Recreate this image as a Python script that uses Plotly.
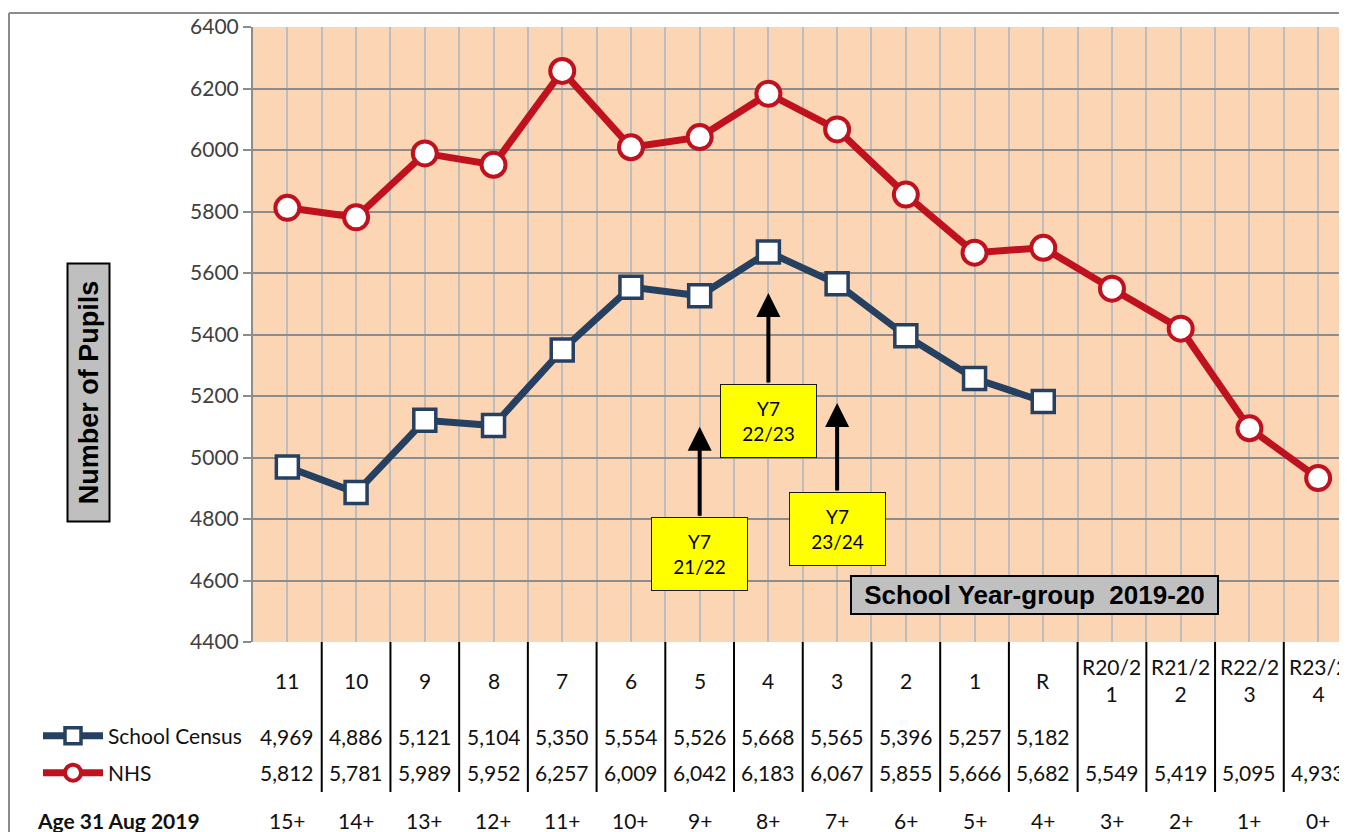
import plotly.graph_objects as go

# ---------------- data ----------------
year_groups = ["11", "10", "9", "8", "7", "6", "5", "4", "3", "2", "1", "R",
               "R20/21", "R21/22", "R22/23", "R23/24"]
year_labels = ["11", "10", "9", "8", "7", "6", "5", "4", "3", "2", "1", "R",
               "R20/2<br>1", "R21/2<br>2", "R22/2<br>3", "R23/2<br>4"]
ages = ["15+", "14+", "13+", "12+", "11+", "10+", "9+", "8+", "7+", "6+", "5+", "4+",
        "3+", "2+", "1+", "0+"]
census = [4969, 4886, 5121, 5104, 5350, 5554, 5526, 5668, 5565, 5396, 5257, 5182]
nhs = [5812, 5781, 5989, 5952, 6257, 6009, 6042, 6183, 6067, 5855, 5666, 5682,
       5549, 5419, 5095, 4933]
y7_labels = ["Y7<br>21/22", "Y7<br>22/23", "Y7<br>23/24"]
y7_groups = ["5", "4", "3"]

xs = list(range(len(year_groups)))

# page offset (body margin of the html page)
OFF = 8
W, H = 1347 - OFF, 832 - OFF
L, T = 253 - OFF, 27 - OFF
BOT = 642 - OFF          # bottom of plot area in figure px
B = H - BOT
PW = W - L
PH = BOT - T


def px_x(p):
    return (p - OFF - L) / PW


def px_y(p):
    return (BOT - (p - OFF)) / PH


RED = "#C0111F"
NAVY = "#254061"
FONT = "Lato"

fig = go.Figure()
fig.add_trace(go.Scatter(
    x=xs[:len(census)], y=census, name="School Census", mode="lines+markers",
    line=dict(color=NAVY, width=7),
    marker=dict(symbol="square", size=22, color="white", line=dict(color=NAVY, width=3.5)),
    legend="legend", showlegend=True))
fig.add_trace(go.Scatter(
    x=xs, y=nhs, name="NHS", mode="lines+markers",
    line=dict(color=RED, width=7),
    marker=dict(symbol="circle", size=24, color="white", line=dict(color=RED, width=4)),
    legend="legend2", showlegend=True))

ann = []
shapes = []
y_cat = px_y(680)
y_cen = px_y(736)
y_nhs = px_y(773)
y_age = px_y(820)
tf = dict(family=FONT, size=21, color="#111111")
for i, g in enumerate(year_groups):
    ann.append(dict(x=i, y=y_cat, xref="x", yref="paper", text=year_labels[i],
                    showarrow=False, font=tf, xanchor="center", yanchor="middle"))
    if i < len(census):
        ann.append(dict(x=i, y=y_cen, xref="x", yref="paper", text=f"{census[i]:,}",
                        showarrow=False, font=tf, xanchor="center", yanchor="middle"))
    ann.append(dict(x=i, y=y_nhs, xref="x", yref="paper", text=f"{nhs[i]:,}",
                    showarrow=False, font=tf, xanchor="center", yanchor="middle"))
    ann.append(dict(x=i, y=y_age, xref="x", yref="paper", text=ages[i],
                    showarrow=False, font=tf, xanchor="center", yanchor="middle"))
    shapes.append(dict(type="line", xref="x", yref="paper", x0=i + 0.5, x1=i + 0.5,
                       y0=0, y1=px_y(792), line=dict(color="black", width=2)))

ann.append(dict(x=px_x(35), y=y_age, xref="paper", yref="paper", xanchor="left",
                yanchor="middle", text="<b>Age 31 Aug 2019</b>", showarrow=False, font=tf))

# y-axis title box
ann.append(dict(x=px_x(88.5), y=px_y(393), xref="paper", yref="paper",
                xanchor="center", yanchor="middle",
                text="<b>Number of Pupils</b>", textangle=-90, showarrow=False,
                font=dict(family="Liberation Sans", size=27, color="black"),
                bgcolor="#BFBFBF", bordercolor="black", borderwidth=2,
                width=254, height=38))

# School year-group box
ann.append(dict(x=px_x(1034.5), y=px_y(594.5), xref="paper", yref="paper",
                xanchor="center", yanchor="middle",
                text="<b>School Year-group\u00a0\u00a02019-20</b>", showarrow=False,
                font=dict(family="Liberation Sans", size=26, color="black"),
                bgcolor="#C0C0C0", bordercolor="black", borderwidth=2,
                width=363, height=34))

# Y7 boxes and arrows
box_y = [4686, 5119, 4767]
tip_y = [5100, 5535, 5177]
tail_y = [4806, 5239, 4888]
for k, g in enumerate(y7_groups):
    xi = year_groups.index(g)
    ann.append(dict(x=xi, y=tip_y[k], ax=xi, ay=tail_y[k], axref="x", ayref="y",
                    xref="x", yref="y", text="", showarrow=True, arrowhead=2,
                    arrowsize=1.2, arrowwidth=4, arrowcolor="black"))
    ann.append(dict(x=xi, y=box_y[k], xref="x", yref="y", text=y7_labels[k],
                    xanchor="center", yanchor="middle",
                    showarrow=False, font=dict(family=FONT, size=19, color="black"),
                    bgcolor="#FFFF00", bordercolor="#1a1a1a", borderwidth=1,
                    width=93, height=70))

# outer frame
shapes.append(dict(type="line", xref="paper", yref="paper", x0=px_x(9), x1=1.05,
                   y0=px_y(13), y1=px_y(13), line=dict(color="#8C8C8C", width=2)))
shapes.append(dict(type="line", xref="paper", yref="paper", x0=px_x(9), x1=px_x(9),
                   y0=px_y(13), y1=px_y(850), line=dict(color="#8C8C8C", width=2)))

leg = dict(xanchor="left", yanchor="middle", bgcolor="rgba(0,0,0,0)",
           font=dict(family=FONT, size=21, color="#111111"), itemwidth=60,
           itemsizing="trace")
fig.update_layout(
    width=W, height=H,
    showlegend=True,
    margin=dict(l=L, r=0, t=T, b=B),
    plot_bgcolor="#FCD5B4", paper_bgcolor="white",
    xaxis=dict(range=[-0.5, 15.42], tick0=-0.5, dtick=0.5, showgrid=True,
               gridcolor="#BDBDBD", gridwidth=2, showticklabels=False,
               zeroline=False, showline=False, ticks=""),
    yaxis=dict(range=[4400, 6400], dtick=200, showgrid=True, gridcolor="#8C8C8C",
               gridwidth=2, showline=True, linecolor="#8C8C8C", linewidth=2,
               ticks="outside", ticklen=8, tickwidth=2, tickcolor="#8C8C8C",
               tickfont=dict(family=FONT, size=21, color="#404040"), zeroline=False),
    legend=dict(x=px_x(38), y=y_cen, **leg),
    legend2=dict(x=px_x(38), y=y_nhs, **leg),
    annotations=ann, shapes=shapes,
)

fig.write_html("out.html")
